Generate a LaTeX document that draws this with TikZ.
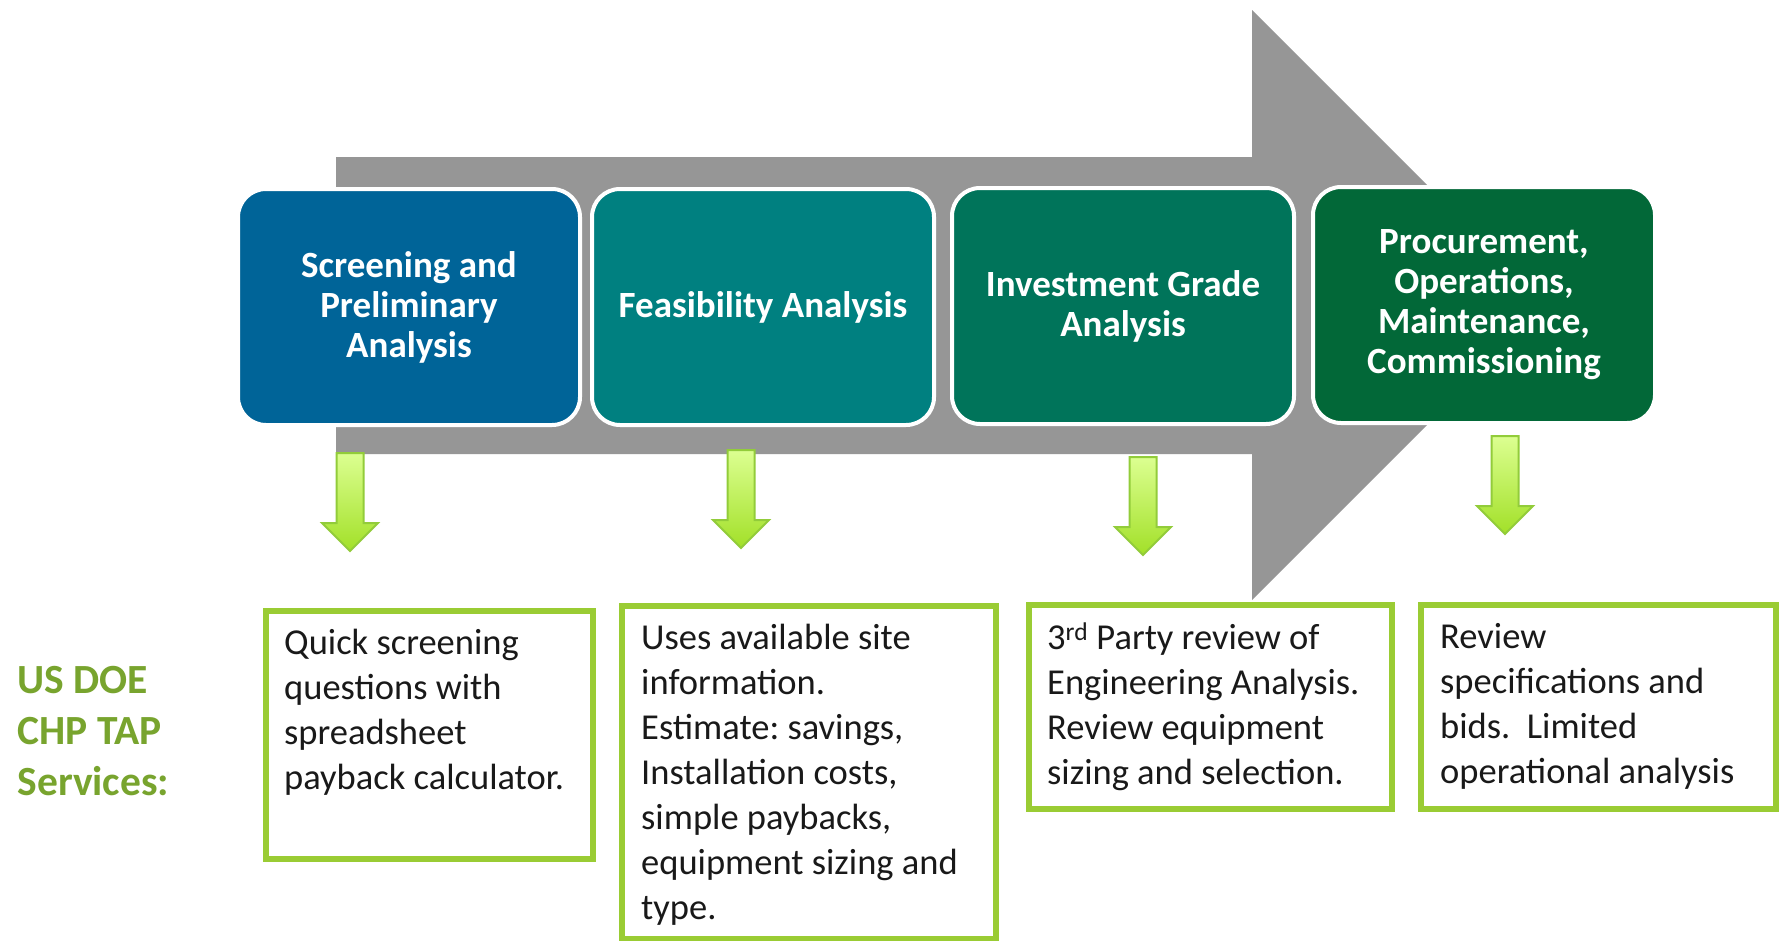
\documentclass[tikz,border=0pt]{standalone}
\usepackage{fontspec}
\setmainfont{Carlito}
\usepackage{tikz}
\usetikzlibrary{shapes, arrows.meta, positioning, backgrounds}
\definecolor{flowgray}{RGB}{150,150,150}
\definecolor{stageblue}{RGB}{0,100,152}
\definecolor{stageteal}{RGB}{0,128,128}
\definecolor{stagejade}{RGB}{0,116,90}
\definecolor{stagegreen}{RGB}{2,104,56}
\definecolor{svcgreen}{RGB}{154,204,52}
\definecolor{tapgreen}{RGB}{120,164,46}
\definecolor{arrowedge}{RGB}{146,204,58}
\definecolor{arrowtop}{RGB}{220,255,145}
\definecolor{arrowbot}{RGB}{162,224,40}
\tikzstyle{stage} = [rectangle, rounded corners=28pt, draw=white, line width=4pt, minimum width=342pt, minimum height=236pt, text=white, align=center, font=\bfseries\fontsize{37}{40}\selectfont]
\tikzstyle{service} = [rectangle, draw=svcgreen, line width=6pt, anchor=north west, inner sep=0pt]
\tikzstyle{svctext} = [anchor=north west, inner sep=0pt, align=left, text=black!90, font=\frenchspacing\fontsize{36.5}{45}\selectfont]
\tikzstyle{dnarrow} = [draw=arrowedge, line width=2pt, top color=arrowtop, bottom color=arrowbot]

\begin{document}
\begin{tikzpicture}[x=1pt, y=-1pt, background rectangle/.style={fill=white}, show background rectangle, inner frame sep=0pt]

    \useasboundingbox (0, 0) rectangle (1780, 940);

    \fill [flowgray] (336, 157) -- (1252, 157) -- (1252, 10) -- (1547, 305) -- (1252, 600) -- (1252, 454) -- (336, 454) -- cycle;

    \node (screen) [stage, fill=stageblue] at (409, 307) {Screening and\\Preliminary\\Analysis};
    \node (feas) [stage, fill=stageteal] at (763, 307) {Feasibility Analysis};
    \node (invest) [stage, fill=stagejade] at (1123, 306) {Investment Grade\\Analysis};
    \node (procure) [stage, fill=stagegreen] at (1484, 305) {Procurement,\\Operations,\\Maintenance,\\Commissioning};

    \foreach \ax/\ay in {350/453, 741/450, 1143/457, 1505/436}
        \path [dnarrow] ({\ax-13.5}, \ay) -- ({\ax+13.5}, \ay) -- ({\ax+13.5}, {\ay+70}) -- ({\ax+28}, {\ay+70}) -- (\ax, {\ay+98}) -- ({\ax-28}, {\ay+70}) -- ({\ax-13.5}, {\ay+70}) -- cycle;

    \node (tap) [anchor=west, align=left, text=tapgreen, font=\bfseries\fontsize{41.5}{51}\selectfont] at (14, 731) {US DOE\\CHP TAP\\Services:};

    \node (svc1) [service, minimum width=327pt, minimum height=248pt] at (263, 608) {};
    \node (svc2) [service, minimum width=374pt, minimum height=333pt] at (619, 603) {};
    \node (svc3) [service, minimum width=363pt, minimum height=204pt] at (1026, 602) {};
    \node (svc4) [service, minimum width=355pt, minimum height=204pt] at (1418, 602) {};

    \node (txt1) [svctext] at ([shift={(21, 21)}]svc1.north west) {Quick screening\\questions with\\spreadsheet\\payback calculator.};
    \node (txt2) [svctext] at ([shift={(22, 21)}]svc2.north west) {Uses available site\\information.\\Estimate: savings,\\Installation costs,\\simple paybacks,\\equipment sizing and\\type.};
    \node (txt3) [svctext] at ([shift={(21, 21)}]svc3.north west) {3\textsuperscript{rd} Party review of\\Engineering Analysis.\\Review equipment\\sizing and selection.};
    \node (txt4) [svctext] at ([shift={(22, 21)}]svc4.north west) {Review\\specifications and\\bids.~ Limited\\operational analysis};

\end{tikzpicture}
\end{document}
